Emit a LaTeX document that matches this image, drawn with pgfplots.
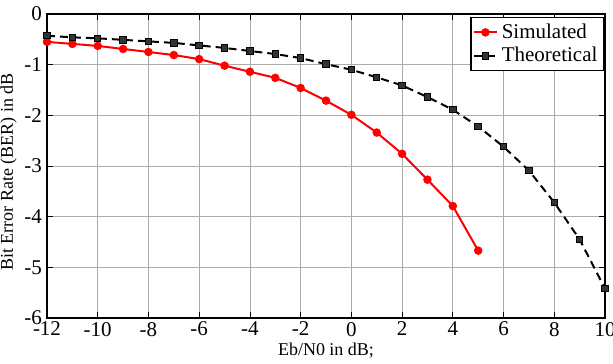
\documentclass[border=0pt]{standalone}
\usepackage{fontspec}
\setmainfont{Liberation Serif}
\newfontfamily\tnr{Liberation Serif}
\usepackage{pgfplots}
\pgfplotsset{compat=1.18}
\begin{document}
\begin{tikzpicture}
\begin{axis}[
  scale only axis,
  width=279pt, height=152pt,
  xmin=-12, xmax=10, ymin=-6, ymax=0,
  xtick={-12,-10,...,10}, ytick={-6,-5,...,0},
  xticklabels={-12,-10,-8,-6,-4,-2,0,2,4,6,8,10},
  yticklabels={-6,-5,-4,-3,-2,-1,0},
  tick align=inside,
  major tick length=3pt,
  tick style={black, line width=0.4pt},
  axis line style={line width=0.8pt},
  grid=major,
  grid style={gray!65, line width=0.4pt},
  ticklabel style={font=\tnr\fontsize{10.5}{12}\selectfont},
  xticklabel style={yshift=1.5pt},
  yticklabel style={xshift=1pt},
  xlabel={Eb/N0 in dB;},
  ylabel={Bit Error Rate (BER) in dB},
  label style={font=\tnr\fontsize{9}{11}\selectfont},
  xlabel style={yshift=3.5pt},
  ylabel style={yshift=-3pt, xshift=-3pt},
  legend image code/.code={\draw[mark repeat=2,mark phase=2] plot coordinates {(0cm,0cm) (0.2cm,0cm) (0.4cm,0cm)};},
  legend style={at={(rel axis cs:1,1)}, anchor=north east, xshift=-0.5pt, yshift=-1.5pt,
    draw=black, line width=0.6pt, font=\tnr\fontsize{10.5}{12}\selectfont,
    inner sep=1pt, row sep=-1pt},
  legend cell align=left,
]
\addplot[red, line width=1pt, mark=*, mark size=1.6pt, mark options={solid}] coordinates {
(-12,-0.55) (-11,-0.59) (-10,-0.63) (-9,-0.69) (-8,-0.75) (-7,-0.81) (-6,-0.89)
(-5,-1.02) (-4,-1.14) (-3,-1.26) (-2,-1.46) (-1,-1.71) (0,-1.99) (1,-2.34)
(2,-2.76) (3,-3.27) (4,-3.79) (5,-4.67)};
\addlegendentry{Simulated}
\addplot[black, line width=1pt, dash pattern=on 4pt off 2.5pt, mark=square*, mark size=1.6pt,
  mark options={solid, fill=black!80, line width=0.5pt}] coordinates {
(-12,-0.43) (-11,-0.46) (-10,-0.48) (-9,-0.51) (-8,-0.54) (-7,-0.57) (-6,-0.62)
(-5,-0.67) (-4,-0.73) (-3,-0.79) (-2,-0.87) (-1,-0.99) (0,-1.10) (1,-1.25)
(2,-1.41) (3,-1.64) (4,-1.89) (5,-2.22) (6,-2.62) (7,-3.09) (8,-3.72)
(9,-4.45) (10,-5.42)};
\addlegendentry{Theoretical}
\end{axis}
\pgfresetboundingbox
\path[use as bounding box] ([xshift=-23.5pt,yshift=-22.5pt]current axis.south west) rectangle ([xshift=4pt,yshift=7pt]current axis.north east);
\end{tikzpicture}
\end{document}
